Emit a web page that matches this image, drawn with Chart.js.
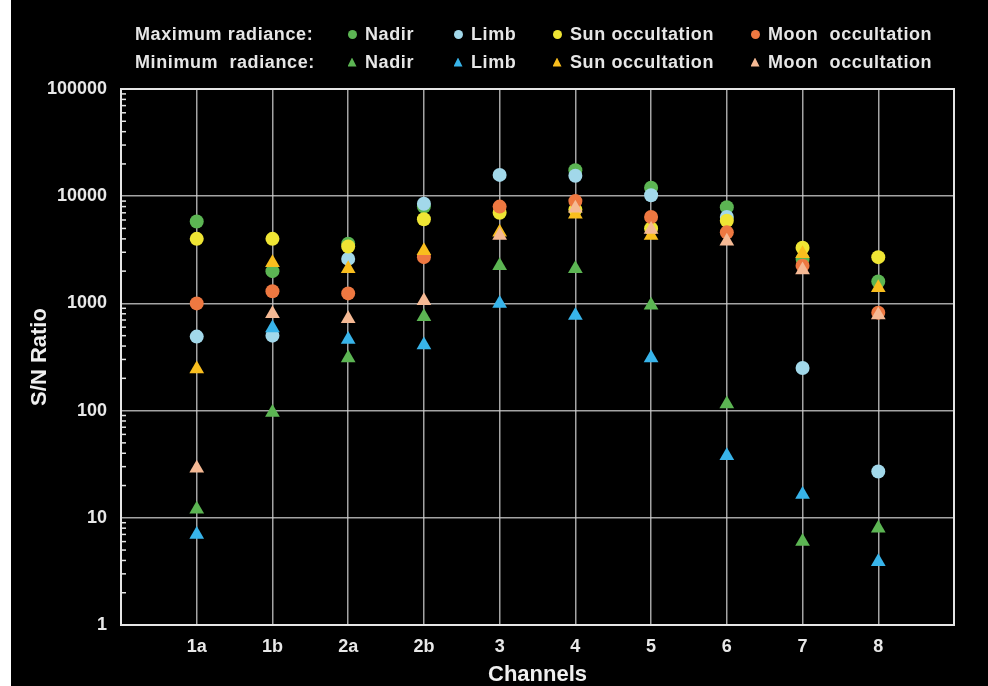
<!DOCTYPE html>
<html lang="en">
<head>
  <meta charset="UTF-8">
  <title>S/N Ratio by channel</title>
  <script src="https://cdn.jsdelivr.net/npm/chart.js"></script>
  <style>
    body {
      margin: 0;
      padding: 0;
      background: #fff;
      font-family: "Liberation Sans", Arial, sans-serif;
    }
    .panel {
      position: absolute;
      left: 11px;
      top: 0;
      width: 977px;
      height: 686px;
      background: #000;
    }
    #legend .row-label, #legend .item {
      position: absolute;
      white-space: pre;
      color: #e6e6e6;
      font-weight: bold;
      font-size: 18px;
      letter-spacing: 0.6px;
      line-height: 20px;
    }
    #legend .mark {
      position: absolute;
      width: 9px;
      height: 9px;
    }
  </style>
</head>
<body>
<div class="panel">
  <canvas id="snChart" width="977" height="686"></canvas>
  <div id="legend"></div>
</div>

<script>
  // channels on the x axis
  const channels = ['1a', '1b', '2a', '2b', '3', '4', '5', '6', '7', '8'];
  const yTicks = [1, 10, 100, 1000, 10000, 100000];

  // maximum radiance (circles)
  const maxNadir = [5800, 2000, 3600, 8000, null, 17500, 12000, 7900, 2600, 1600];
  const maxLimb  = [490, 500, 2600, 8500, 15800, 15500, 10200, 6400, 250, 27];
  const maxSun   = [4000, 4000, 3400, 6100, 7000, 7500, 5000, 5900, 3300, 2700];
  const maxMoon  = [1000, 1300, 1240, 2700, 8000, 9000, 6400, 4600, 2250, 820];

  // minimum radiance (triangles)
  const minNadir = [12, 96, 310, 750, 2250, 2100, 960, 115, 6, 8];
  const minLimb  = [7, 590, 460, 410, 1000, 770, 310, 38, 16.5, 3.9];
  const minSun   = [245, 2400, 2100, 3100, 4600, 6800, 4300, null, 2900, 1400];
  const minMoon  = [29, 800, 720, 1060, 4300, 7700, 4900, 3800, 2050, 780];

  const modeNames = ['Nadir', 'Limb', 'Sun occultation', 'Moon  occultation'];
  const maxColors = ['#5cb553', '#a2d8ea', '#efe534', '#ee7841'];
  const minColors = ['#5cb553', '#38b4ea', '#f9be1e', '#f5b994'];

  const series = [
    { vals: maxNadir, color: maxColors[0], shape: 'circle' },
    { vals: maxLimb,  color: maxColors[1], shape: 'circle' },
    { vals: maxSun,   color: maxColors[2], shape: 'circle' },
    { vals: maxMoon,  color: maxColors[3], shape: 'circle' },
    { vals: minNadir, color: minColors[0], shape: 'triangle' },
    { vals: minLimb,  color: minColors[1], shape: 'triangle' },
    { vals: minSun,   color: minColors[2], shape: 'triangle' },
    { vals: minMoon,  color: minColors[3], shape: 'triangle' }
  ];

  const datasets = series.map((s, i) => ({
    label: (i < 4 ? 'Maximum ' : 'Minimum ') + modeNames[i % 4],
    data: s.vals.map((v, j) => ({ x: j + 1, y: v })),
    pointStyle: s.shape,
    pointRadius: s.shape === 'circle' ? 7 : 8.5,
    pointHoverRadius: s.shape === 'circle' ? 7 : 8.5,
    backgroundColor: s.color,
    borderColor: s.color,
    borderWidth: 0,
    showLine: false,
    order: 10 - i  // later series on top
  }));

  // frame round the plot + minor ticks on the log axis
  const framePlugin = {
    id: 'frame',
    beforeDatasetsDraw(chart) {
      const { ctx, chartArea: a, scales: { y } } = chart;
      ctx.save();
      ctx.strokeStyle = '#e6e6e6';
      ctx.lineWidth = 2;
      ctx.strokeRect(a.left, a.top, a.right - a.left, a.bottom - a.top);
      ctx.lineWidth = 1.5;
      for (let e = 0; e < 5; e++) {
        for (let k = 2; k <= 9; k++) {
          const py = y.getPixelForValue(k * Math.pow(10, e));
          ctx.beginPath();
          ctx.moveTo(a.left, py);
          ctx.lineTo(a.left + 5, py);
          ctx.stroke();
        }
      }
      ctx.restore();
    }
  };

  const tickFont = { family: '"Liberation Sans", Arial, sans-serif', size: 18, weight: 'bold' };
  const titleFont = { family: '"Liberation Sans", Arial, sans-serif', size: 22, weight: 'bold', lineHeight: 1 };
  const gridColor = 'rgba(205,205,205,0.8)';

  new Chart(document.getElementById('snChart'), {
    type: 'scatter',
    data: { datasets },
    options: {
      responsive: false,
      animation: false,
      layout: { padding: { left: 0, right: 34, top: 89, bottom: 0 } },
      plugins: {
        legend: { display: false },
        tooltip: { enabled: false }
      },
      scales: {
        x: {
          type: 'linear',
          min: 0,
          max: channels.length + 1,
          afterBuildTicks: s => { s.ticks = channels.map((c, i) => ({ value: i + 1 })); },
          afterFit: s => { s.height = 61; },
          ticks: {
            color: '#e8e8e8',
            font: tickFont,
            padding: 11,
            autoSkip: false,
            maxRotation: 0,
            callback: v => channels[v - 1]
          },
          grid: { color: gridColor, lineWidth: 1.5, drawTicks: false },
          border: { display: false },
          title: {
            display: true,
            text: 'Channels',
            color: '#efefef',
            font: titleFont,
            padding: { top: 0, bottom: 0 }
          }
        },
        y: {
          type: 'logarithmic',
          min: yTicks[0],
          max: yTicks[yTicks.length - 1],
          afterBuildTicks: s => { s.ticks = yTicks.map(v => ({ value: v })); },
          afterFit: s => { s.width = 110; },
          ticks: {
            color: '#e8e8e8',
            font: tickFont,
            padding: 14,
            callback: v => String(v)
          },
          grid: { color: gridColor, lineWidth: 1.5, drawTicks: false },
          border: { display: false },
          title: {
            display: true,
            text: 'S/N Ratio',
            color: '#efefef',
            font: titleFont,
            padding: { top: 18, bottom: 0 }
          }
        }
      }
    },
    plugins: [framePlugin]
  });

  // two-row legend (positions relative to the black panel)
  const legend = document.getElementById('legend');
  const rowY = [34, 62];
  const rowLabels = ['Maximum radiance:', 'Minimum  radiance:'];
  const markX = [341, 447, 546, 744];
  rowLabels.forEach((txt, r) => {
    const lab = document.createElement('div');
    lab.className = 'row-label';
    lab.textContent = txt;
    lab.style.left = '124px';
    lab.style.top = (rowY[r] - 10) + 'px';
    legend.appendChild(lab);
    modeNames.forEach((name, i) => {
      const col = r === 0 ? maxColors[i] : minColors[i];
      const m = document.createElement('div');
      m.className = 'mark';
      m.style.background = col;
      m.style.left = (markX[i] - 4.5) + 'px';
      m.style.top = (rowY[r] - 4.5) + 'px';
      if (r === 0) m.style.borderRadius = '50%';
      else m.style.clipPath = 'polygon(50% 0, 100% 100%, 0 100%)';
      legend.appendChild(m);
      const t = document.createElement('div');
      t.className = 'item';
      t.textContent = name;
      t.style.left = (markX[i] + 13) + 'px';
      t.style.top = (rowY[r] - 10) + 'px';
      legend.appendChild(t);
    });
  });
</script>
</body>
</html>
